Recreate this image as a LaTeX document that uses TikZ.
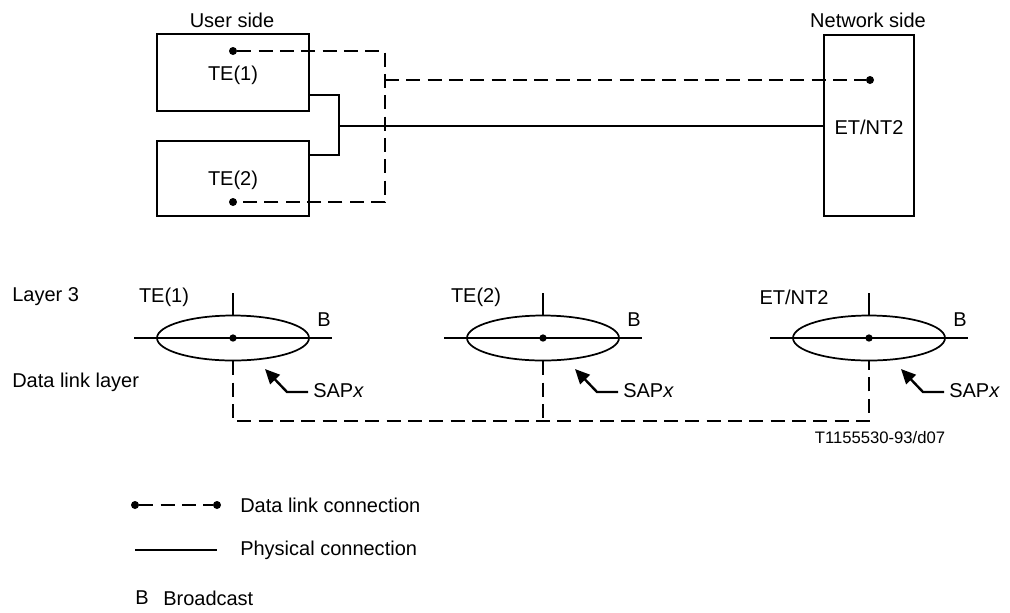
\documentclass[tikz,border=0pt]{standalone}
\usepackage{fontspec}
\setmainfont{Liberation Sans}
\usetikzlibrary{arrows.meta,shapes.geometric}
\begin{document}
\begin{tikzpicture}[x=0.75pt,y=-0.75pt,
  font=\fontsize{15}{18}\selectfont,
  box/.style={draw,line width=1.5pt,inner sep=0pt},
  phys/.style={line width=1.8pt},
  dl/.style={line width=1.8pt,dash pattern=on 10.5pt off 5.5pt},
  dot/.style={circle,fill,inner sep=0pt,minimum size=6pt},
  sap/.style={ellipse,draw,line width=1.3pt,inner sep=0pt,minimum width=114pt,minimum height=33.75pt},
  arr/.style={line width=1.8pt,-{Triangle[length=11pt,width=10pt]}},
  lbl/.style={inner sep=0pt}]
\useasboundingbox (0,0) rectangle (1010,612);
% ---------- upper part
\node[lbl] (us) at (232,20) {User side};
\node[lbl] (ns) at (868,20) {Network side};
\node[box,minimum width=114pt,minimum height=57.75pt] (te1) at (233,72.5) {};
\node[lbl] (te1t) at (233,75) {TE(1)};
\node[box,minimum width=114pt,minimum height=56.25pt] (te2) at (233,178.5) {};
\node[lbl] (te2t) at (233,180) {TE(2)};
\node[box,minimum width=67.5pt,minimum height=135.75pt] (et) at (869,125.5) {};
\node[lbl] (ett) at (869,127) {ET/NT2};
\node[dot] (d1) at (233,51) {};
\node[dot] (d2) at (233,202) {};
\node[dot] (d3) at (870,80) {};
\coordinate (c1) at (385,51);
\coordinate (c2) at (385,202);
\coordinate (c3) at (385,80);
\draw[dl] (d1) -- (c1) -- (c2) -- (d2);
\draw[dl] (c3) -- (d3);
\coordinate (p1) at (309,95);
\coordinate (p2) at (309,155);
\coordinate (k1) at (339,95);
\coordinate (k2) at (339,155);
\coordinate (j) at (339,126);
\draw[phys] (p1) -- (k1) -- (k2) -- (p2);
\draw[phys] (j) -- (et.west |- j);
% ---------- lower part
\node[lbl,anchor=west] (l3) at (12,297) {Layer 3};
\node[lbl,anchor=west] (dll) at (12,382) {Data link layer};
\foreach \n/\x/\t in {e1/233/TE(1), e2/543/TE(2), e3/869/ET/NT2}{
  \node[sap] (\n) at (\x,338) {};
  \coordinate (\n l) at (\x-99,338);
  \coordinate (\n r) at (\x+99,338);
  \coordinate (\n t) at (\x,293);
  \draw[phys] (\n l) -- (\n r);
  \draw[phys] (\n t) -- (\n.north);
  \node[dot,minimum size=5.5pt] (\n c) at (\x,338) {};
  \node[lbl] (\n b) at (\x+91,320) {B};
  \coordinate (\n k) at (\x+54,392);
  \coordinate (\n e) at (\x+75,392);
  \coordinate (\n a) at (\x+32,369);
  \draw[arr] (\n e) -- (\n k) -- (\n a);
  \node[lbl,anchor=west] (\n s) at (\x+80,391) {SAP\textit{x}};
}
\node[lbl] (e1n) at (164,297) {TE(1)};
\node[lbl] (e2n) at (476,297) {TE(2)};
\node[lbl] (e3n) at (794,297) {ET/NT2};
\coordinate (b1) at (233,421);
\coordinate (b2) at (543,421);
\coordinate (b3) at (869,421);
\draw[dl] (e1.south) -- (b1) -- (b3) -- (e3.south);
\draw[dl] (e2.south) -- (b2);
\node[lbl,font=\fontsize{12.5}{15}\selectfont] (ref) at (880,438) {T1155530-93/d07};
% ---------- legend
\node[dot] (ld1) at (135,505) {};
\node[dot] (ld2) at (217,505) {};
\draw[dl] (ld1) -- (ld2);
\node[lbl,anchor=west] (ldt) at (240,505) {Data link connection};
\coordinate (lp1) at (135,550);
\coordinate (lp2) at (217,550);
\draw[phys] (lp1) -- (lp2);
\node[lbl,anchor=west] (lpt) at (240,550) {Physical connection};
\node[lbl,anchor=west] (lb) at (135,598) {B};
\node[lbl,anchor=west] (lbt) at (163,598) {Broadcast};
\end{tikzpicture}
\end{document}
